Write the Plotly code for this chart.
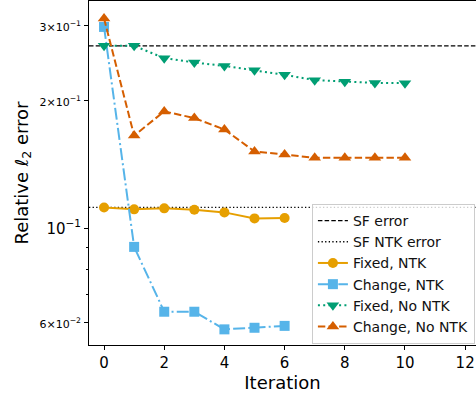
import math
import plotly.graph_objects as go

# ---- data ----
sf_error = 0.269
sf_ntk_error = 0.1120

it_fixed_ntk = [0, 1, 2, 3, 4, 5, 6]
fixed_ntk = [0.1119, 0.1108, 0.1114, 0.1106, 0.1090, 0.1055, 0.1057]

it_change_ntk = [0, 1, 2, 3, 4, 5, 6]
change_ntk = [0.298, 0.0904, 0.0636, 0.0636, 0.0578, 0.0583, 0.0589]

it_fixed_nontk = [0, 1, 2, 3, 4, 5, 6, 7, 8, 9, 10]
fixed_nontk = [0.269, 0.269, 0.2516, 0.2457, 0.2412, 0.2357, 0.2298, 0.2233, 0.2213, 0.2200, 0.2197]

it_change_nontk = [0, 1, 2, 3, 4, 5, 6, 7, 8, 9, 10]
change_nontk = [0.312, 0.1653, 0.1885, 0.1818, 0.1709, 0.1516, 0.1492, 0.1465, 0.1465, 0.1465, 0.1465]

x_ticks = [0, 2, 4, 6, 8, 10, 12]
y_tickvals = [0.06, 0.1, 0.2, 0.3]
y_ticktext = [
    '<span style="font-size:11px">6×10<sup>−2</sup></span>',
    '10<sup>−1</sup>',
    '<span style="font-size:11px">2×10<sup>−1</sup></span>',
    '<span style="font-size:11px">3×10<sup>−1</sup></span>',
]
y_minor = [0.07, 0.08, 0.09]

x_range = [-0.5, 12.36]
y_lo, y_hi = 0.0531, 0.343

FONT = "DejaVu Sans"

fig = go.Figure()

fig.add_trace(go.Scatter(x=[x_range[0], x_range[1]], y=[sf_error, sf_error], mode="lines",
                         name="SF error", line=dict(color="black", dash="4.5px,2.2px", width=1.3)))
fig.add_trace(go.Scatter(x=[x_range[0], x_range[1]], y=[sf_ntk_error, sf_ntk_error], mode="lines",
                         name="SF NTK error", line=dict(color="black", dash="1.3px,2.3px", width=1.3)))
fig.add_trace(go.Scatter(x=it_fixed_ntk, y=fixed_ntk, mode="lines+markers", name="Fixed, NTK",
                         line=dict(color="#E69F00", width=2),
                         marker=dict(symbol="circle", size=10, color="#E69F00")))
fig.add_trace(go.Scatter(x=it_change_ntk, y=change_ntk, mode="lines+markers", name="Change, NTK",
                         line=dict(color="#56B4E9", width=2, dash="12px,3.2px,2px,3.2px"),
                         marker=dict(symbol="square", size=10, color="#56B4E9")))
fig.add_trace(go.Scatter(x=it_fixed_nontk, y=fixed_nontk, mode="lines+markers", name="Fixed, No NTK",
                         line=dict(color="#009E73", width=2, dash="2px,3.3px"),
                         marker=dict(symbol="triangle-down", size=11, color="#009E73")))
fig.add_trace(go.Scatter(x=it_change_nontk, y=change_nontk, mode="lines+markers", name="Change, No NTK",
                         line=dict(color="#D55E00", width=2, dash="7.4px,3.2px"),
                         marker=dict(symbol="triangle-up", size=11, color="#D55E00")))

fig.update_layout(
    width=476, height=396,
    margin=dict(l=89, r=0, t=1, b=51),
    paper_bgcolor="white", plot_bgcolor="white",
    font=dict(family=FONT, size=15, color="black"),
    showlegend=True,
    legend=dict(x=0.576, y=0.41, xanchor="left", yanchor="top",
                bgcolor="rgba(255,255,255,0.8)", bordercolor="#cccccc", borderwidth=1,
                font=dict(family=FONT, size=14, color="#111"),
                tracegroupgap=0, itemwidth=30),
    xaxis=dict(range=x_range, tickvals=x_ticks, ticks="outside", ticklen=4, tickwidth=1,
               tickcolor="black", showgrid=False, zeroline=False,
               showline=True, mirror=True, linecolor="black", linewidth=1,
               title=dict(text="Iteration", font=dict(size=18), standoff=4),
               tickfont=dict(size=15)),
    yaxis=dict(type="log", range=[math.log10(y_lo), math.log10(y_hi)],
               tickvals=y_tickvals, ticktext=y_ticktext, ticks="outside", ticklen=4, tickwidth=1,
               tickcolor="black", showgrid=False, zeroline=False,
               showline=True, mirror=True, linecolor="black", linewidth=1,
               minor=dict(tickvals=y_minor, ticks="outside", ticklen=2.5, tickcolor="black", showgrid=False),
               title=dict(text="Relative <i>ℓ</i><sub>2</sub> error", font=dict(size=18), standoff=6),
               tickfont=dict(size=15)),
)

fig.write_html("out.html")
